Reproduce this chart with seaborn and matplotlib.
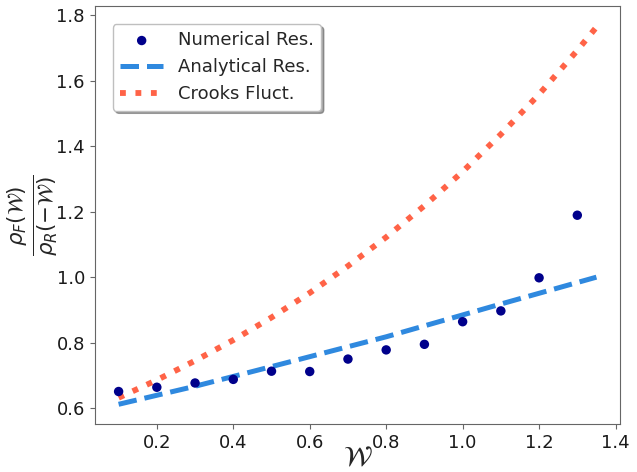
import numpy as np
import pandas as pd
import matplotlib
matplotlib.use("Agg")
import matplotlib.pyplot as plt
import seaborn as sns

# Numerical results
num_w = [0.1, 0.2, 0.3, 0.4, 0.5, 0.6, 0.7, 0.8, 0.9, 1.0, 1.1, 1.2, 1.3]
num_ratio = [0.651, 0.664, 0.677, 0.688, 0.713, 0.712, 0.750, 0.778, 0.795, 0.864, 0.897, 0.998, 1.189]

# Analytical result
ana_w = [0.1, 0.3, 0.5, 0.8, 1.1, 1.35]
ana_ratio = [0.612, 0.667, 0.727, 0.818, 0.918, 1.000]

# Crooks fluctuation
crk_w = [0.1, 0.2, 0.3, 0.4, 0.5, 0.6, 0.7, 0.8, 0.9, 1.0, 1.1, 1.2, 1.3, 1.35]
crk_ratio = [0.632, 0.686, 0.745, 0.808, 0.877, 0.952, 1.034, 1.122, 1.218, 1.322, 1.436, 1.558, 1.692, 1.763]

sns.set_style("white", {"axes.edgecolor": "0.4", "xtick.bottom": True, "ytick.left": True})
plt.rcParams['font.family'] = ['DejaVu Sans']
plt.rcParams['mathtext.fontset'] = 'dejavusans'

fig = plt.figure(figsize=(6.37, 4.72), dpi=100)
ax = fig.add_axes([0.1487, 0.1011, 0.8251, 0.8862])

df_num = pd.DataFrame({"w": num_w, "r": num_ratio})
df_ana = pd.DataFrame({"w": ana_w, "r": ana_ratio})
df_crk = pd.DataFrame({"w": crk_w, "r": crk_ratio})

sns.scatterplot(data=df_num, x="w", y="r", ax=ax, color="#00008b", s=46, edgecolor="none",
                label="Numerical Res.", zorder=3)
sns.lineplot(data=df_ana, x="w", y="r", ax=ax, color="#2f89df", linewidth=3.6, linestyle="--",
             label="Analytical Res.")
sns.lineplot(data=df_crk, x="w", y="r", ax=ax, color="#ff6347", linewidth=4.2, linestyle=":",
             label="Crooks Fluct.")

ax.set_xlim(0.0375, 1.4125)
ax.set_ylim(0.551, 1.8275)
ax.set_xticks([0.2, 0.4, 0.6, 0.8, 1.0, 1.2, 1.4])
ax.set_yticks([0.6, 0.8, 1.0, 1.2, 1.4, 1.6, 1.8])
ax.tick_params(labelsize=13, labelcolor="0.1", color="0.4", length=3.5, width=0.8)

ax.set_xlabel(r"$\mathcal{W}$", fontsize=20)
ax.xaxis.set_label_coords(0.5, -0.046)
ax.set_ylabel(r"$\frac{\rho_F(\mathcal{W})}{\rho_R(-\mathcal{W})}$", fontsize=22)
ax.yaxis.set_label_coords(-0.068, 0.5)

leg = ax.legend(loc="upper left", fontsize=13, frameon=True, shadow=True, fancybox=True,
                borderaxespad=1.0, handlelength=2.4)
leg.get_frame().set_edgecolor("0.75")
leg.get_frame().set_facecolor("white")

fig.savefig("out.png", dpi=100)
